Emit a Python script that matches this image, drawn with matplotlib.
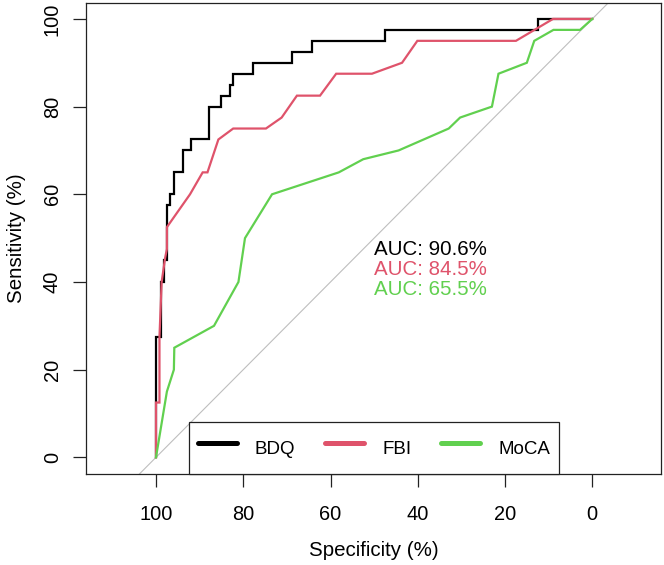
import matplotlib
matplotlib.use("Agg")
import matplotlib.pyplot as plt
from matplotlib.lines import Line2D

plt.rcParams['font.family'] = ['Liberation Sans', 'DejaVu Sans']

# ---- data (specificity %, sensitivity %) ----
bdq_spec = [100, 100, 98.9, 98.9, 98.1, 98.1, 97.5, 97.5, 96.7, 96.7, 95.9, 95.9,
            93.9, 93.9, 92.0, 92.0, 87.8, 87.8, 85.1, 85.1, 83.0, 83.0, 82.4, 82.4,
            77.7, 77.7, 68.9, 68.9, 64.3, 64.3, 47.5, 47.5, 12.4, 12.4, 0]
bdq_sens = [0, 27.5, 27.5, 40, 40, 45, 45, 57.5, 57.5, 60, 60, 65,
            65, 70, 70, 72.5, 72.5, 80, 80, 82.5, 82.5, 85, 85, 87.5,
            87.5, 90, 90, 92.5, 92.5, 95, 95, 97.5, 97.5, 100, 100]

fbi_spec = [100, 100, 99.2, 99.2, 98.7, 97.9, 97.5, 97.5, 92.2, 89.3, 88.2, 85.7,
            82.3, 74.8, 71.2, 67.7, 62.4, 58.7, 50.5, 43.6, 40.1, 17.5, 9.0, 0]
fbi_sens = [0, 12.5, 12.5, 27.5, 40, 45.5, 47.5, 52.5, 60, 65, 65, 72.5,
            75, 75, 77.5, 82.5, 82.5, 87.5, 87.5, 90, 95, 95, 100, 100]

moca_spec = [100, 97.5, 95.9, 95.8, 86.7, 81.1, 79.6, 73.4, 58.1, 52.5, 44.4,
             32.9, 30.3, 23.0, 21.5, 15.0, 13.3, 8.9, 2.8, 0]
moca_sens = [0, 15, 20, 25, 30, 40, 50, 60, 65, 68, 70,
             75, 77.5, 80, 87.5, 90, 95, 97.5, 97.5, 100]

series_names = ["BDQ", "FBI", "MoCA"]
series_colors = ["#000000", "#DF536B", "#61D04F"]
auc_labels = ["AUC: 90.6%", "AUC: 84.5%", "AUC: 65.5%"]
auc_y = [46.1, 41.55, 37.0]
x_ticks = [100, 80, 60, 40, 20, 0]
y_ticks = [0, 20, 40, 60, 80, 100]

W, H = 664, 565
fig = plt.figure(figsize=(W / 100, H / 100), dpi=100)
left, right, top, bottom = 86, 661, 2.7, 474
ax = fig.add_axes([left / W, 1 - bottom / H, (right - left) / W, (bottom - top) / H])

ax.set_xlim(116.04, -15.75)
ax.set_ylim(-3.8, 103.7)

# diagonal reference
ax.axline((100, 0), (0, 100), color="#BEBEBE", lw=0.8, zorder=1)

curves = [(bdq_spec, bdq_sens), (fbi_spec, fbi_sens), (moca_spec, moca_sens)]
for (sx, sy), c in zip(curves, series_colors):
    ax.plot(sx, sy, color=c, lw=1.6, zorder=2, solid_joinstyle="miter")

for lab, yy, c in zip(auc_labels, auc_y, series_colors):
    ax.text(50.1, yy, lab, color=c, fontsize=14.8, ha="left", va="baseline")

ax.set_xticks(x_ticks)
ax.set_yticks(y_ticks)
ax.set_xticklabels([str(v) for v in x_ticks])
ax.set_yticklabels([str(v) for v in y_ticks])
ax.tick_params(axis="both", direction="out", length=9.4, width=0.9,
               labelsize=14.4, color="#222222")
ax.tick_params(axis="x", pad=13)
ax.tick_params(axis="y", pad=8)
plt.setp(ax.get_yticklabels(), rotation=90, va="center")

for s in ax.spines.values():
    s.set_linewidth(0.9)
    s.set_color("#222222")

ax.set_xlabel("Specificity (%)", fontsize=14.8, labelpad=12)
ax.set_ylabel("Sensitivity (%)", fontsize=14.8, labelpad=12)

handles = [Line2D([0], [0], color=c, lw=3.6, solid_capstyle="round") for c in series_colors]
leg = ax.legend(handles, series_names, loc="lower center", bbox_to_anchor=(0.501, 0.0),
                ncol=3, fontsize=13.5, frameon=True, fancybox=False, framealpha=1,
                edgecolor="#222222", borderaxespad=0, borderpad=0.5,
                handlelength=2.08, handletextpad=0.95, columnspacing=1.6,
                handleheight=2.35)
leg.get_frame().set_linewidth(0.9)
leg.set_zorder(5)

fig.savefig("out.png", dpi=100, facecolor="white")
